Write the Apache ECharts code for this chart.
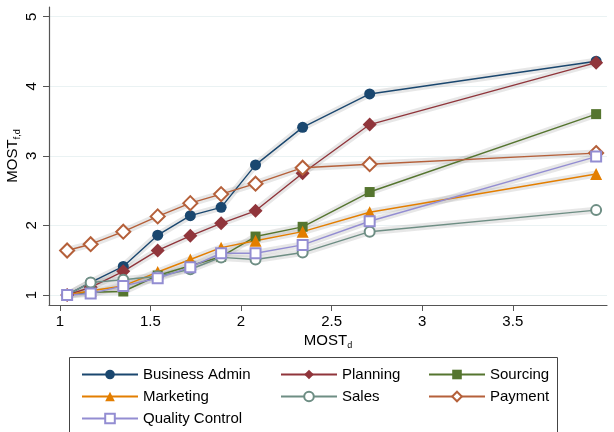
<!DOCTYPE html>
<html>
<head>
<meta charset="utf-8">
<script src="https://cdn.jsdelivr.net/npm/echarts@6/dist/echarts.min.js"></script>
<style>
  html, body { margin: 0; padding: 0; background: #fff; }
  #chart { width: 614px; height: 432px; }
</style>
</head>
<body>
<div id="chart"></div>
<script>
// x positions (MOST_d) shared by all groups
const mostD = [1.04, 1.17, 1.35, 1.54, 1.72, 1.89, 2.08, 2.34, 2.71, 3.96]

const businessAdmin = [1.00, 1.18, 1.41, 1.86, 2.14, 2.26, 2.87, 3.41, 3.89, 4.36]
const planning      = [1.00, 1.11, 1.34, 1.64, 1.85, 2.03, 2.21, 2.75, 3.45, 4.34]
const sourcing      = [1.00, 1.04, 1.05, 1.28, 1.42, 1.55, 1.84, 1.98, 2.48, 3.60]
const marketing     = [1.00, 1.06, 1.13, 1.33, 1.51, 1.68, 1.78, 1.91, 2.19, 2.74]
const sales         = [1.00, 1.18, 1.22, 1.27, 1.37, 1.54, 1.51, 1.61, 1.91, 2.22]
const payment       = [1.64, 1.73, 1.91, 2.13, 2.32, 2.45, 2.60, 2.83, 2.88, 3.04]
const qualityCtrl   = [1.00, 1.02, 1.13, 1.24, 1.40, 1.60, 1.60, 1.72, 2.06, 2.99]

const xTicks = [1, 1.5, 2, 2.5, 3, 3.5]
const yTicks = [1, 2, 3, 4, 5]

const groups = [
  { name: 'Business Admin', data: businessAdmin, color: '#1a476f', symbol: 'circle', size: 11 },
  { name: 'Planning', data: planning, color: '#90353b', symbol: 'diamond', size: 14 },
  { name: 'Sourcing', data: sourcing, color: '#55752f', symbol: 'rect', size: 10 },
  { name: 'Marketing', data: marketing, color: '#e37e00', symbol: 'triangle', size: 12 },
  { name: 'Sales', data: sales, color: '#6e8e84', symbol: 'emptyCircle', size: 10 },
  { name: 'Payment', data: payment, color: '#b5603a', symbol: 'emptyDiamond', size: 14 },
  { name: 'Quality Control', data: qualityCtrl, color: '#938dd2', symbol: 'emptyRect', size: 10 }
]

const font = 'Liberation Sans, Arial, sans-serif'

const series = []
// grey bands behind every line
groups.forEach(g => {
  series.push({
    name: g.name + ' band',
    type: 'line',
    data: mostD.map((x, i) => [x, g.data[i]]),
    symbol: 'none',
    silent: true,
    z: 1,
    lineStyle: { width: 7, color: 'rgba(170,170,170,0.28)' }
  })
})
groups.forEach(g => {
  series.push({
    name: g.name,
    type: 'line',
    data: mostD.map((x, i) => [x, g.data[i]]),
    symbol: g.symbol,
    symbolSize: g.size,
    z: 3,
    color: g.color,
    lineStyle: { width: 1.4, color: g.color },
    itemStyle: { color: g.color, borderColor: g.color, borderWidth: g.symbol.indexOf('empty') === 0 ? 1.3 : 0 }
  })
})

function legendCol(names, left) {
  return {
    data: names,
    orient: 'vertical',
    left: left,
    top: 362,
    height: 100,
    itemWidth: 56,
    itemHeight: 12,
    itemGap: 7,
    selectedMode: false,
    textStyle: { fontFamily: font, fontSize: 15, color: '#000' }
  }
}

const chart = echarts.init(document.getElementById('chart'))
chart.setOption({
  animation: false,
  backgroundColor: '#fff',
  grid: { left: 49, right: 7, top: 7, bottom: 127, outerBoundsMode: 'none', containLabel: false },
  xAxis: {
    type: 'value',
    min: 0.94,
    max: 4.02,
    name: '{a|MOST}{s|d}',
    nameLocation: 'middle',
    nameGap: 27,
    nameMoveOverlap: false,
    nameTextStyle: {
      rich: {
        a: { fontFamily: font, fontSize: 15, color: '#000', lineHeight: 18 },
        s: { fontFamily: font, fontSize: 9, color: '#000', verticalAlign: 'bottom', lineHeight: 12, padding: [6, 0, 0, 0] }
      }
    },
    axisLine: { show: true, lineStyle: { color: '#555', width: 1.2 } },
    axisTick: { show: true, length: 6, lineStyle: { color: '#555' }, customValues: xTicks },
    axisLabel: { customValues: xTicks, fontFamily: font, fontSize: 15, color: '#000', margin: 9 },
    splitLine: { show: false }
  },
  yAxis: {
    type: 'value',
    min: 0.856,
    max: 5.14,
    name: '{a|MOST}{s|f,d}',
    nameLocation: 'middle',
    nameRotate: 90,
    nameGap: 27,
    nameMoveOverlap: false,
    nameTextStyle: {
      rich: {
        a: { fontFamily: font, fontSize: 15, color: '#000', lineHeight: 18 },
        s: { fontFamily: font, fontSize: 9, color: '#000', verticalAlign: 'bottom', lineHeight: 12, padding: [6, 0, 0, 0] }
      }
    },
    axisLine: { show: true, lineStyle: { color: '#555', width: 1.2 } },
    axisTick: { show: true, length: 6, lineStyle: { color: '#555' }, customValues: yTicks },
    axisLabel: { customValues: yTicks, rotate: 90, fontFamily: font, fontSize: 15, color: '#000', margin: 10 },
    splitLine: { show: true, customValues: yTicks, lineStyle: { color: '#eaf2f3', width: 1.2 } }
  },
  legend: [
    legendCol(['Business Admin', 'Marketing', 'Quality Control'], 76),
    legendCol(['Planning', 'Sales'], 275),
    legendCol(['Sourcing', 'Payment'], 423)
  ],
  graphic: [{
    type: 'rect',
    shape: { x: 69.5, y: 357.5, width: 488, height: 80 },
    style: { fill: 'none', stroke: '#444', lineWidth: 1 },
    silent: true
  }],
  series: series
})
</script>
</body>
</html>
